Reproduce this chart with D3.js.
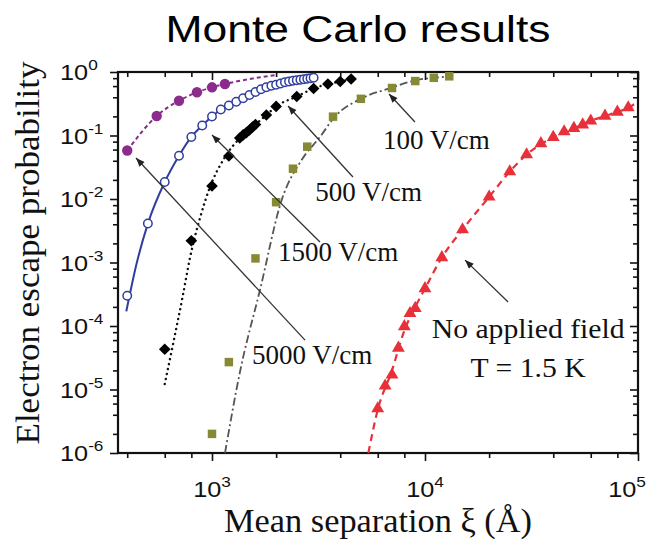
<!DOCTYPE html>
<html>
<head>
<meta charset="utf-8">
<script src="https://cdn.jsdelivr.net/npm/d3@7"></script>
<style>
body { margin: 0; background: #fff; }
</style>
</head>
<body>
<svg id="chart" width="651" height="542"></svg>
<script>
// values: x = mean separation (Angstrom), y = escape probability

// 5000 V/cm (filled purple circles, short dashes)
const f5000X = [400, 550, 700, 850, 1000, 1150];
const f5000Y = [0.058, 0.203, 0.353, 0.479, 0.574, 0.647];
const fit5000X = [400, 550, 700, 850, 1000, 1150, 1500, 2000];
const fit5000Y = [0.058, 0.203, 0.353, 0.479, 0.574, 0.647, 0.776, 0.897];

// 1500 V/cm (open blue circles, solid)
const f1500X = [400, 500, 600, 700, 800, 900, 1000, 1100, 1200, 1300, 1400, 1500, 1600, 1700,
    1800, 1900, 2000, 2100, 2200, 2300, 2400, 2500, 2600, 2700, 2800, 2900, 3000];
const f1500Y = [3.0e-4, 4.1e-3, 0.0185, 0.048, 0.095, 0.144, 0.199, 0.257, 0.297, 0.341, 0.385,
    0.434, 0.484, 0.534, 0.574, 0.608, 0.631, 0.659, 0.689, 0.709, 0.73, 0.743, 0.756, 0.77,
    0.784, 0.798, 0.811];
const fit1500X = [396, 443, 500, 600, 700, 800, 900, 1000, 1100, 1200, 1300, 1400, 1500, 1600,
    1700, 1800, 1900, 2000, 2200, 2400, 2600, 2800, 3000];
const fit1500Y = [1.7e-4, 9.7e-4, 4.1e-3, 0.0185, 0.048, 0.095, 0.144, 0.199, 0.257, 0.297,
    0.341, 0.385, 0.434, 0.484, 0.534, 0.574, 0.608, 0.631, 0.689, 0.73, 0.756, 0.784, 0.811];

// 500 V/cm (black diamonds, dotted)
const f500X = [600, 800, 1000, 1200, 1350, 1400, 1450, 1500, 1550, 1600, 1800, 2000, 2500, 3000,
    3500, 4000, 4500];
const f500Y = [4.3e-5, 2.2e-3, 0.016, 0.0476, 0.0914, 0.102, 0.111, 0.122, 0.136, 0.149, 0.21,
    0.287, 0.411, 0.55, 0.647, 0.708, 0.776];
const fit500X = [600, 658, 729, 788, 878, 979, 1151, 1400, 1600, 1800, 2000, 2500, 3000, 3500,
    4000, 4500];
const fit500Y = [1.22e-5, 5.4e-5, 2.97e-4, 1.18e-3, 5.0e-3, 0.0155, 0.0458, 0.102, 0.149, 0.21,
    0.287, 0.411, 0.55, 0.647, 0.708, 0.776];

// 100 V/cm (olive squares, dash-dot)
const f100X = [1000, 1200, 1600, 2000, 2400, 2800, 3700, 5000, 7000, 9000, 11000, 13000];
const f100Y = [2.0e-6, 2.7e-5, 1.16e-3, 8.9e-3, 0.030, 0.0667, 0.198, 0.378, 0.56, 0.72, 0.81,
    0.855];
const fit100X = [1151, 1353, 1680, 2123, 2634, 3212, 3775, 5050, 6980, 9140, 11140, 12900];
const fit100Y = [1.0e-6, 1.89e-5, 3.69e-4, 9.6e-3, 0.0411, 0.0947, 0.198, 0.385, 0.566, 0.748,
    0.813, 0.85];

// no applied field, T = 1.5 K (red triangles, dashed)
const f0X = [6000, 6500, 7000, 7500, 8000, 8500, 9000, 10000, 12000, 15000, 20000, 25000, 30000,
    35000, 40000, 45000, 50000, 55000, 60000, 70000, 80000, 90000];
const f0Y = [5.0e-6, 1.14e-5, 1.7e-5, 4.5e-5, 9.8e-5, 1.58e-4, 1.9e-4, 3.9e-4, 1.2e-3, 3.3e-3,
    0.0108, 0.027, 0.05, 0.075, 0.094, 0.115, 0.13, 0.148, 0.17, 0.203, 0.235, 0.275];
const fit0X = [5420, 6000, 7000, 8000, 9000, 10000, 12000, 15000, 20000, 25000, 30000, 40000,
    50000, 60000, 70000, 80000, 90000, 100000];
const fit0Y = [1.0e-6, 4.8e-6, 2.0e-5, 8.5e-5, 2.0e-4, 3.9e-4, 1.2e-3, 3.3e-3, 0.0108, 0.027,
    0.05, 0.094, 0.13, 0.17, 0.203, 0.235, 0.275, 0.34];

// axis ticks
const xMajor = [1e3, 1e4, 1e5];
const xMinor = [400, 600, 800, 2000, 4000, 6000, 8000, 20000, 40000, 60000, 80000];
const yMajor = [1e0, 1e-1, 1e-2, 1e-3, 1e-4, 1e-5, 1e-6];
const yMinor = [];
yMajor.slice(1).forEach(d => [2, 4, 6, 8].forEach(m => yMinor.push(d * m)));

// annotations: arrow [tailX, tailY, tipX, tipY] and label anchor, in data units
const arrowLines = [
    [8970, 0.163, 6780, 0.451],
    [4590, 0.0222, 2275, 0.292],
    [3213, 2.1e-3, 1000, 0.102],
    [2734, 6.0e-5, 440, 0.0442],
    [24550, 2.39e-4, 15420, 1.09e-3]
];
const fieldLabels = ["100 V/cm", "500 V/cm", "1500 V/cm", "5000 V/cm"];
const fieldLabelX = [6350, 3050, 2043, 1541];
const fieldLabelY = [0.0613, 0.0093, 1.06e-3, 2.5e-5];
const noteLines = ["No applied field", "T = 1.5 K"];
const noteX = [30500, 30500];
const noteY = [6.47e-5, 1.57e-5];

const margin = {top: 72, left: 118},
    width = 520,
    height = 381;

const svg = d3.select("#chart");
const g = svg.append("g").attr("transform", `translate(${margin.left},${margin.top})`);

const x = d3.scaleLog().domain([362, 1e5]).range([0, width]);
const y = d3.scaleLog().domain([1e-6, 1]).range([height, 0]);

const zip = (xs, ys) => xs.map((v, i) => [v, ys[i]]);
const line = d3.line()
    .x(d => x(d[0]))
    .y(d => y(d[1]))
    .curve(d3.curveMonotoneX);

// stretch text horizontally a bit, the original figure is a little wide
function place(sel, px, py, sx, rot) {
    sel.attr("transform", `translate(${px},${py})` + (rot ? ` rotate(${rot})` : "") + ` scale(${sx},1)`);
}

/* ticks */
function tickAxis(axis, vals, size, transform) {
    const a = g.append("g")
        .attr("transform", transform)
        .call(axis.tickValues(vals).tickSize(size).tickFormat(""));
    a.select(".domain").remove();
    a.selectAll("line").attr("stroke", "#111").attr("stroke-width", 1.6);
}
tickAxis(d3.axisBottom(x), xMajor, 8, `translate(0,${height})`);
tickAxis(d3.axisBottom(x), xMinor, 5, `translate(0,${height})`);
tickAxis(d3.axisTop(x), xMajor, -8, "translate(0,0)");
tickAxis(d3.axisTop(x), xMinor, -5, "translate(0,0)");
tickAxis(d3.axisLeft(y), yMajor, 8, "translate(0,0)");
tickAxis(d3.axisLeft(y), yMinor, 5, "translate(0,0)");
tickAxis(d3.axisRight(y), yMajor, -8, `translate(${width},0)`);
tickAxis(d3.axisRight(y), yMinor, -5, `translate(${width},0)`);

// frame
g.append("rect")
    .attr("x", 0).attr("y", 0)
    .attr("width", width).attr("height", height)
    .attr("fill", "none")
    .attr("stroke", "#111")
    .attr("stroke-width", 2.2);

/* tick labels 10^n */
function powerLabel(v, anchor) {
    const t = svg.append("text")
        .attr("font-family", "'Liberation Sans', Arial, sans-serif")
        .attr("font-size", 22)
        .attr("fill", "#111")
        .attr("text-anchor", anchor);
    t.append("tspan").text("10");
    t.append("tspan")
        .attr("font-size", 15)
        .attr("dy", -10)
        .text(String(Math.round(Math.log10(v))));
    return t;
}
xMajor.forEach(v => {
    // the last label would run off the page, keep it inside like the original
    const px = Math.min(margin.left + x(v), 627);
    place(powerLabel(v, "middle"), px, 497, 1.15);
});
yMajor.forEach(v => {
    place(powerLabel(v, "start"), 60, margin.top + y(v) + 8, 1.15);
});

/* axis titles */
place(svg.append("text")
    .attr("font-family", "'Liberation Serif', 'Times New Roman', serif")
    .attr("font-size", 33)
    .attr("fill", "#111")
    .attr("text-anchor", "middle")
    .text("Mean separation ξ (Å)"), 378, 532, 1.04);

place(svg.append("text")
    .attr("font-family", "'Liberation Serif', 'Times New Roman', serif")
    .attr("font-size", 34)
    .attr("fill", "#111")
    .attr("text-anchor", "middle")
    .text("Electron escape probability"), 39, 253, 1.03, -90);

place(svg.append("text")
    .attr("font-family", "'Liberation Sans', Arial, sans-serif")
    .attr("font-size", 37)
    .attr("fill", "#000")
    .attr("text-anchor", "middle")
    .text("Monte Carlo results"), 358, 42, 1.2);

/* curves */
const plot = g.append("g");

plot.append("path").datum(zip(fit0X, fit0Y))
    .attr("d", line).attr("fill", "none")
    .attr("stroke", "#e8303a").attr("stroke-width", 2.2)
    .attr("stroke-dasharray", "7,5");
plot.append("path").datum(zip(fit100X, fit100Y))
    .attr("d", line).attr("fill", "none")
    .attr("stroke", "#555").attr("stroke-width", 1.8)
    .attr("stroke-dasharray", "8,3,2,3");
plot.append("path").datum(zip(fit500X, fit500Y))
    .attr("d", line).attr("fill", "none")
    .attr("stroke", "#111").attr("stroke-width", 2.4)
    .attr("stroke-linecap", "round")
    .attr("stroke-dasharray", "0.1,5");
plot.append("path").datum(zip(fit1500X, fit1500Y))
    .attr("d", line).attr("fill", "none")
    .attr("stroke", "#2f3e9e").attr("stroke-width", 2);
plot.append("path").datum(zip(fit5000X, fit5000Y))
    .attr("d", line).attr("fill", "none")
    .attr("stroke", "#8b2b8b").attr("stroke-width", 2)
    .attr("stroke-dasharray", "4,3");

/* markers */
function drawMarkers(data, type, size, fill, stroke, strokeWidth, rotate) {
    plot.append("g").selectAll("path")
        .data(data)
        .enter()
        .append("path")
        .attr("d", d3.symbol().type(type).size(size))
        .attr("transform", d => `translate(${x(d[0])},${y(d[1])})` + (rotate ? ` rotate(${rotate})` : ""))
        .attr("fill", fill)
        .attr("stroke", stroke)
        .attr("stroke-width", strokeWidth);
}
drawMarkers(zip(f0X, f0Y), d3.symbolTriangle, 72, "#e8303a", "none", 0);
drawMarkers(zip(f100X, f100Y), d3.symbolSquare, 72, "#868a35", "none", 0);
drawMarkers(zip(f500X, f500Y), d3.symbolSquare, 68, "#000", "none", 0, 45);
drawMarkers(zip(f1500X, f1500Y), d3.symbolCircle, 56, "#fff", "#2f3e9e", 1.5);
drawMarkers(zip(f5000X, f5000Y), d3.symbolCircle, 85, "#8b2b8b", "none", 0);

/* annotations */
svg.append("defs").append("marker")
    .attr("id", "head")
    .attr("viewBox", "0 0 10 8")
    .attr("refX", 10).attr("refY", 4)
    .attr("markerWidth", 10).attr("markerHeight", 7)
    .attr("markerUnits", "userSpaceOnUse")
    .attr("orient", "auto")
    .append("path")
    .attr("d", "M0,0 L10,4 L0,8 Z")
    .attr("fill", "#222");

g.append("g").selectAll("line")
    .data(arrowLines)
    .enter()
    .append("line")
    .attr("x1", d => x(d[0])).attr("y1", d => y(d[1]))
    .attr("x2", d => x(d[2])).attr("y2", d => y(d[3]))
    .attr("stroke", "#333")
    .attr("stroke-width", 1.3)
    .attr("marker-end", "url(#head)");

fieldLabels.forEach((s, i) => {
    place(g.append("text")
        .attr("font-family", "'Liberation Serif', 'Times New Roman', serif")
        .attr("font-size", 27)
        .attr("fill", "#111")
        .text(s), x(fieldLabelX[i]), y(fieldLabelY[i]), 1.0);
});
noteLines.forEach((s, i) => {
    place(g.append("text")
        .attr("font-family", "'Liberation Serif', 'Times New Roman', serif")
        .attr("font-size", 27)
        .attr("fill", "#111")
        .attr("text-anchor", "middle")
        .text(s), x(noteX[i]), y(noteY[i]), 1.1);
});
</script>
</body>
</html>
